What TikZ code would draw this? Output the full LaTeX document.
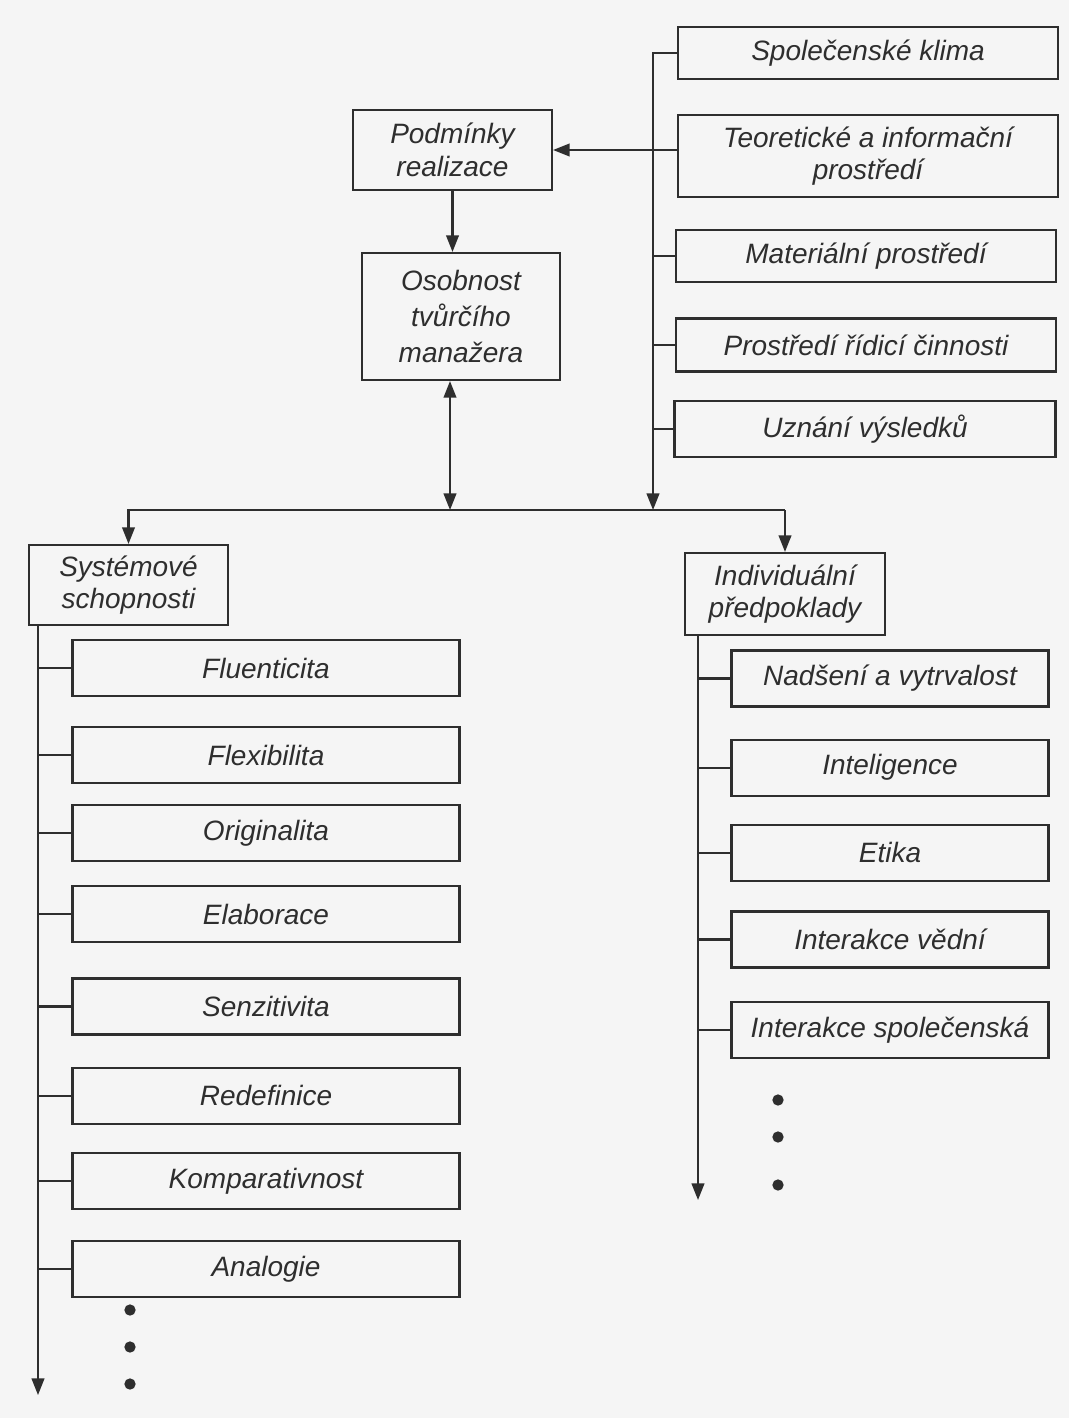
\documentclass[tikz,border=0pt]{standalone}
\usepackage{fontspec}
\setmainfont{Liberation Sans}
\usepackage{xcolor}
\definecolor{ink}{rgb}{0.18,0.18,0.18}
\definecolor{paper}{rgb}{0.96,0.96,0.96}
\usetikzlibrary{positioning, arrows.meta}

\begin{document}
\begin{tikzpicture}
[x=0.75pt, y=-0.75pt,
 color=ink, line width=1.6pt,
 >={Triangle[length=12.5pt,width=9.5pt]},
 box/.style={draw, align=center, inner sep=0pt,
   font=\fontsize{21}{24.5}\selectfont\itshape},
 wh/.style 2 args={minimum width=#1*0.75pt, minimum height=#2*0.75pt},
 item/.style={box, wh={387}{56}},
 trait/.style={box, wh={317}{56}},
 dot/.style={circle, fill, inner sep=0pt, minimum size=8.5pt},
]

\path[fill=paper, draw=none] (0,0) rectangle (1069,1418);
\useasboundingbox (0,0) rectangle (1069,1418);

\node[box, wh={380}{52}] (klima)  at (868,53)  {Společenské klima};
\node[box, wh={380}{82}] (teor)   at (868,156) {Teoretické a informační\\prostředí};
\node[box, wh={380}{52}] (mat)    at (866,256) {Materiální prostředí};
\node[box, wh={380}{53}] (rizeni) at (866,345) {Prostředí řídicí činnosti};
\node[box, wh={381}{56}] (uznani) at (865,429) {Uznání výsledků};

\node[box, wh={199}{80}] (podm) at (452.5,150) {Podmínky\\realizace};
\node[box, wh={198}{127}, font=\fontsize{21}{27}\selectfont\itshape]
  (osob) at (461,316.5) {Osobnost\\tvůrčího\\manažera};

\node[box, wh={199}{80}] (sys) at (128.5,585) {Systémové\\schopnosti};
\node[box, wh={200}{82}] (ind) at (785,594)   {Individuální\\předpoklady};

\node[item] (flu) at (266,668) {Fluenticita};
\node[item, below=21.75pt of flu]  (flex)  {Flexibilita};
\node[item, below=15pt of flex]    (orig)  {Originalita};
\node[item, below=17.25pt of orig] (elab)  {Elaborace};
\node[item, below=25.5pt of elab]  (senz)  {Senzitivita};
\node[item, below=23.25pt of senz] (redef) {Redefinice};
\node[item, below=20.25pt of redef] (komp) {Komparativnost};
\node[item, below=22.5pt of komp]  (anal)  {Analogie};

\node[trait] (nad) at (890,678.5) {Nadšení a vytrvalost};
\node[trait, below=23.25pt of nad]  (intel)  {Inteligence};
\node[trait, below=20.25pt of intel] (etika) {Etika};
\node[trait, below=21.4pt of etika] (ivedni) {Interakce vědní};
\node[trait, below=24.4pt of ivedni] (ispol) {Interakce společenská};

\node[dot] (ldot1) at (130,1310) {};
\node[dot] (ldot2) at (130,1347) {};
\node[dot] (ldot3) at (130,1384) {};
\node[dot] (rdot1) at (778,1100) {};
\node[dot] (rdot2) at (778,1137) {};
\node[dot] (rdot3) at (778,1185) {};

\coordinate (hl)     at (450,510);
\coordinate (ttrunk) at (653,510);
\coordinate (rtrunk) at (698,1200);
\coordinate (ltrunk) at (38,1395);

% conditions
\draw[->] (klima.west) -| (ttrunk);
\draw[->] (podm.east -| teor.west) -- (podm.east);
\foreach \n in {mat, rizeni, uznani}
  \draw (\n.west) -- (\n.west -| ttrunk);
\draw[->] (podm.south) -- (podm.south |- osob.north);
\draw[<->] (osob.south -| hl) -- (hl);

% split
\draw[->] (ind.north |- hl) -| (sys.north);
\draw[->] (ind.north |- hl) -- (ind.north);

% abilities
\draw[->] (sys.south -| ltrunk) -- (ltrunk);
\foreach \n in {flu, flex, orig, elab, senz, redef, komp, anal}
  \draw (\n.west) -- (\n.west -| ltrunk);

% individual traits
\draw[->] (ind.south -| rtrunk) -- (rtrunk);
\foreach \n in {nad, intel, etika, ivedni, ispol}
  \draw (\n.west) -- (\n.west -| rtrunk);
\end{tikzpicture}
\end{document}
